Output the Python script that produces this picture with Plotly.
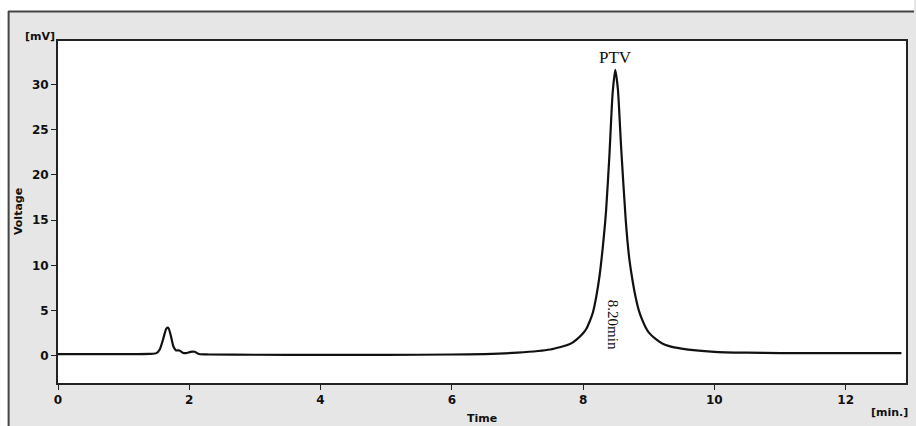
import plotly.graph_objects as go

# Chromatogram points (time in min, voltage in mV)
time_min = [0.0, 0.5, 1.0, 1.4, 1.5, 1.55, 1.6, 1.65, 1.68, 1.72, 1.76, 1.8, 1.85, 1.9, 1.95,
            2.02, 2.08, 2.15, 2.3, 3.0, 4.0, 5.0, 6.0, 6.5, 7.0, 7.5, 7.8, 7.9, 8.0, 8.05, 8.1,
            8.15, 8.2, 8.25, 8.3, 8.35, 8.4, 8.45, 8.49, 8.53, 8.58, 8.65, 8.7, 8.75, 8.8,
            8.85, 8.9, 8.95, 9.0, 9.1, 9.2, 9.3, 9.5, 10.0, 10.5, 11.0, 12.0, 12.85]
voltage_mv = [0.2, 0.2, 0.2, 0.22, 0.3, 0.7, 1.8, 3.0, 3.1, 2.2, 1.0, 0.6, 0.6, 0.35, 0.3,
              0.45, 0.45, 0.2, 0.15, 0.12, 0.1, 0.1, 0.15, 0.2, 0.35, 0.7, 1.3, 1.8, 2.5, 3.0, 3.8,
              4.8, 6.5, 8.8, 12.0, 16.0, 22.0, 29.0, 31.6, 29.5, 23.0, 15.0, 11.0, 8.5, 6.5,
              5.0, 4.0, 3.2, 2.6, 1.9, 1.4, 1.1, 0.8, 0.45, 0.35, 0.3, 0.3, 0.3]

x_ticks = [0, 2, 4, 6, 8, 10, 12]
y_ticks = [0, 5, 10, 15, 20, 25, 30]

peak_label = "PTV"
peak_time_label = "8.20min"
peak_x = 8.49

W, H = 916, 426
L, T, R, B = 58, 41, 8, 43
pw, ph = W - L - R, H - T - B

def px(x):
    return (x - L) / pw

def py(y):
    return (H - B - y) / ph

fig = go.Figure()
fig.add_trace(go.Scatter(x=time_min, y=voltage_mv, mode="lines",
                         line=dict(color="#111111", width=2.2, shape="spline", smoothing=0.6),
                         hoverinfo="skip", showlegend=False))

tick_font = dict(family="DejaVu Sans", size=12, color="#111111", weight="bold")
axis_common = dict(showline=True, linecolor="#222222", linewidth=2, mirror=True,
                   ticks="outside", ticklen=5, tickwidth=1, tickcolor="#222222",
                   showgrid=False, zeroline=False, tickfont=tick_font)

fig.update_xaxes(range=[0, 12.92], tickvals=x_ticks, **axis_common)
fig.update_yaxes(range=[-3, 34.8], tickvals=y_ticks, **axis_common)

lab_font = dict(family="DejaVu Sans", size=11, color="#111111", weight="bold")
ctr = dict(xanchor="center", yanchor="middle", showarrow=False)
ann = [
    dict(x=peak_x, y=33.0, xref="x", yref="y", text=peak_label,
         font=dict(family="Liberation Serif", size=17, color="#111111"), **ctr),
    dict(x=8.46, y=3.4, xref="x", yref="y", text=peak_time_label, textangle=90,
         font=dict(family="Liberation Serif", size=15, color="#111111"), **ctr),
    dict(x=px(18), y=py(212), xref="paper", yref="paper", text="Voltage",
         textangle=-90, font=lab_font, **ctr),
    dict(x=px(483), y=py(419), xref="paper", yref="paper", text="Time", font=lab_font, **ctr),
    dict(x=px(40), y=py(36), xref="paper", yref="paper", text="[mV]", font=lab_font, **ctr),
    dict(x=px(891), y=py(412), xref="paper", yref="paper", text="[min.]", font=lab_font, **ctr),
]

shapes = [
    dict(type="rect", xref="paper", yref="paper", x0=px(0), x1=px(8), y0=py(H), y1=py(0),
         fillcolor="white", line=dict(width=0), layer="below"),
    dict(type="rect", xref="paper", yref="paper", x0=px(0), x1=px(W), y0=py(11), y1=py(0),
         fillcolor="white", line=dict(width=0), layer="below"),
    dict(type="line", xref="paper", yref="paper", x0=px(8.5), x1=px(8.5), y0=py(H), y1=py(11),
         line=dict(color="#444444", width=2), layer="below"),
    dict(type="line", xref="paper", yref="paper", x0=px(8), x1=px(W), y0=py(11.5), y1=py(11.5),
         line=dict(color="#444444", width=2), layer="below"),
]

fig.update_layout(width=W, height=H, margin=dict(l=L, r=R, t=T, b=B),
                  paper_bgcolor="#e6e6e6", plot_bgcolor="white",
                  annotations=ann, shapes=shapes)

fig.write_html("out.html")
